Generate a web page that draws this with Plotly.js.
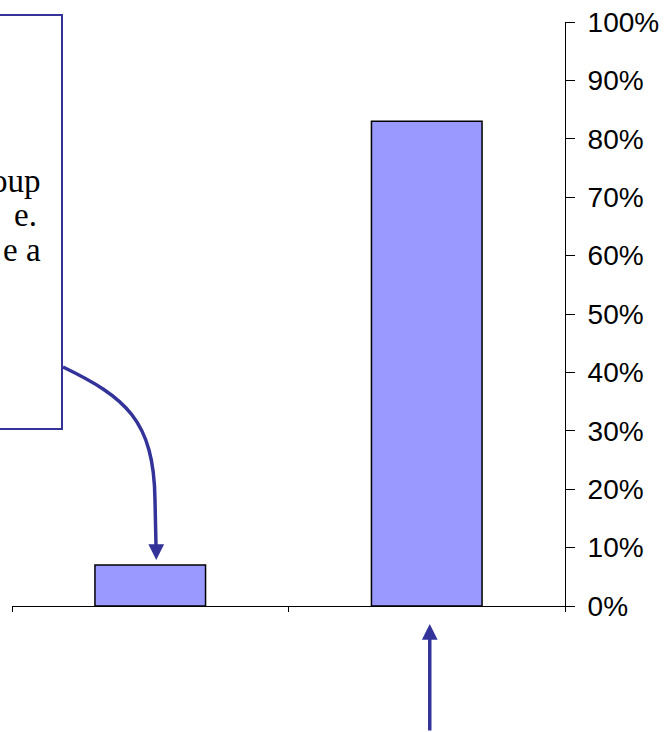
<!DOCTYPE html>
<html>
<head>
<meta charset="utf-8">
<script src="https://cdn.plot.ly/plotly-3.0.1.min.js"></script>
<style>
  html, body { margin: 0; padding: 0; background: #fff; }
  #chart { width: 666px; height: 732px; }
</style>
</head>
<body>
<div id="chart"></div>
<script>
// Two groups, share of respondents
const categories = ['Group 1', 'Group 2'];
const shares = [0.07, 0.83];
const yTickVals = [0, 0.1, 0.2, 0.3, 0.4, 0.5, 0.6, 0.7, 0.8, 0.9, 1.0];

// Callout text fragments (the box runs off the left edge of the page)
const calloutLines = ['oup', 'e.', 'e a'];

const W = 666, H = 732;
const M = { l: 12, r: 101, t: 22, b: 126 };
const plotW = W - M.l - M.r;
const plotH = H - M.t - M.b;
// pixel -> paper helpers for the callout decoration
const px = x => (x - M.l) / plotW;
const py = y => (H - M.b - y) / plotH;

const ink = '#333399';

const trace = {
  type: 'bar',
  x: categories,
  y: shares,
  marker: { color: '#9999FF', line: { color: '#000', width: 1.5 } },
  hoverinfo: 'skip'
};

// curved connector from the callout box to the first bar
const curve = 'M ' + px(63) + ',' + py(367) +
  ' C ' + px(125) + ',' + py(397) + ' ' + px(154) + ',' + py(420) + ' ' + px(155) + ',' + py(500) +
  ' L ' + px(156) + ',' + py(546);

const lineYs = [181, 215, 250];
const lineRight = [43, 39, 43];

const annotations = calloutLines.map((t, i) => ({
  xref: 'paper', yref: 'paper',
  x: px(lineRight[i]), y: py(lineYs[i]),
  xanchor: 'right', yanchor: 'middle',
  text: t, showarrow: false,
  font: { family: 'Liberation Serif, Times New Roman, serif', size: 33, color: '#000' }
}));

annotations.push({
  xref: 'x', yref: 'y', x: categories[0], y: shares[0],
  text: '', showarrow: true, ax: 0, ay: -22, standoff: 5, xshift: 6,
  arrowhead: 2, arrowsize: 0.9, arrowwidth: 3.5, arrowcolor: ink
});
annotations.push({
  xref: 'x', yref: 'y', x: categories[1], y: 0,
  text: '', showarrow: true, ax: 0, ay: 132, standoff: 18, xshift: 3,
  arrowhead: 2, arrowsize: 0.9, arrowwidth: 3.5, arrowcolor: ink
});

const layout = {
  width: W, height: H,
  margin: { l: M.l, r: M.r, t: M.t, b: M.b, pad: 0 },
  paper_bgcolor: '#fff', plot_bgcolor: '#fff',
  showlegend: false,
  bargap: 0.6,
  xaxis: {
    type: 'category',
    showline: true, linecolor: '#000', linewidth: 1,
    ticks: 'outside', tickson: 'boundaries', ticklen: 5, tickcolor: '#000',
    showticklabels: false, showgrid: false, zeroline: false, fixedrange: true
  },
  yaxis: {
    side: 'right',
    range: [0, 1],
    tickvals: yTickVals, tickformat: '.0%',
    showline: true, linecolor: '#000', linewidth: 1,
    ticks: 'outside', ticklen: 9, tickcolor: '#000',
    ticklabelstandoff: 7,
    showgrid: false, zeroline: false, fixedrange: true,
    tickfont: { family: 'Liberation Sans, Arial, sans-serif', size: 28, color: '#000' }
  },
  shapes: [
    {
      type: 'rect', xref: 'paper', yref: 'paper',
      x0: px(-40), x1: px(62), y0: py(429), y1: py(15),
      line: { color: ink, width: 2 }, fillcolor: 'rgba(255,255,255,0)'
    },
    {
      type: 'path', xref: 'paper', yref: 'paper', path: curve,
      line: { color: ink, width: 3.5 }
    }
  ],
  annotations: annotations
};

Plotly.newPlot('chart', [trace], layout, { staticPlot: true, displayModeBar: false });
</script>
</body>
</html>
